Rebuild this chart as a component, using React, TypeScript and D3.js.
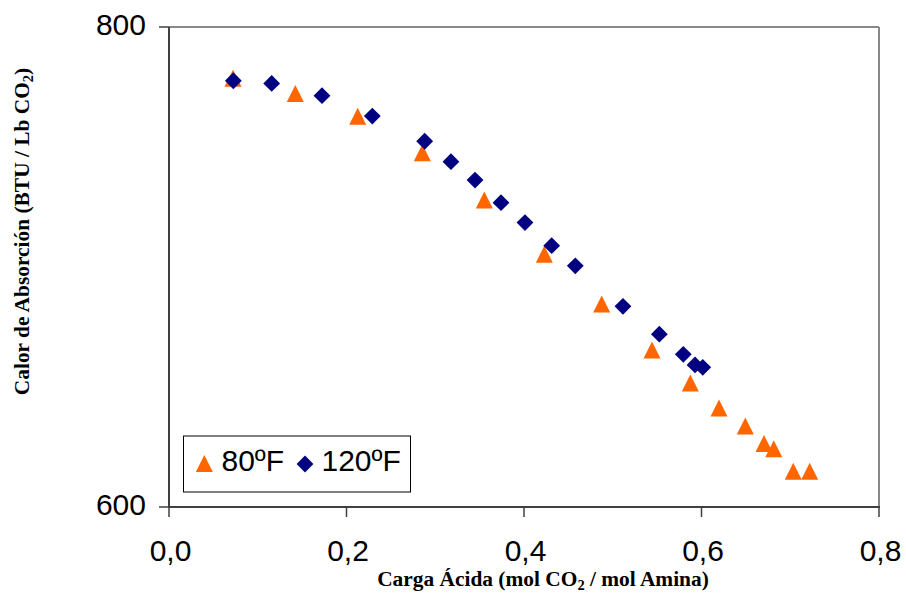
import React from "react";
import * as d3 from "d3";

const carga80: number[] = [0.0721, 0.1423, 0.2126, 0.2854, 0.3553, 0.4229, 0.4875, 0.5442, 0.5874, 0.6197, 0.6494, 0.6704, 0.6814, 0.7034, 0.7219];
const calor80: number[] = [778.6, 772.3, 762.8, 747.6, 727.9, 705.3, 684.6, 665.4, 651.7, 641.2, 633.8, 626.5, 624.3, 614.9, 614.9];

const carga120: number[] = [0.0725, 0.1157, 0.1724, 0.2291, 0.2881, 0.3177, 0.3448, 0.3741, 0.4011, 0.4312, 0.4578, 0.5115, 0.5525, 0.5795, 0.5927, 0.6014];
const calor120: number[] = [777.6, 776.5, 771.4, 762.9, 752.4, 743.9, 736.2, 726.8, 718.5, 708.9, 700.5, 683.6, 672.0, 663.6, 659.2, 658.2];

const xTicks: number[] = [0, 0.2, 0.4, 0.6, 0.8];
const yTicks: number[] = [600, 800];
const seriesNames: string[] = ["80ºF", "120ºF"];

const ORANGE = "#FF6600";
const NAVY = "#000080";

export default function App() {
  const W = 906, H = 593;
  const x = d3.scaleLinear().domain([0, 0.8]).range([169, 879]);
  const y = d3.scaleLinear().domain([600, 800]).range([507, 27]);
  const fmt = (v: number) => v.toFixed(1).replace(".", ",");

  const tri = (cx: number, cy: number, s = 8.5) =>
    `M${cx},${cy - s}L${cx + s},${cy + s}L${cx - s},${cy + s}Z`;
  const dia = (cx: number, cy: number, s = 8.4) =>
    `M${cx},${cy - s}L${cx + s},${cy}L${cx},${cy + s}L${cx - s},${cy}Z`;

  const sans = "'Liberation Sans', Arial, sans-serif";
  const serif = "'Liberation Serif', 'Times New Roman', serif";

  return (
    <svg width={W} height={H} style={{ position: "absolute", left: 0, top: 0, background: "#fff" }}>
      <rect x={0} y={0} width={W} height={H} fill="#fff" />
      {/* frame: top/right gray */}
      <line x1={x(0)} x2={x(0.8)} y1={y(800)} y2={y(800)} stroke="#888" strokeWidth={2} />
      <line x1={x(0.8)} x2={x(0.8)} y1={y(800)} y2={y(600)} stroke="#888" strokeWidth={2} />
      {/* axes */}
      <line x1={x(0)} x2={x(0)} y1={y(800)} y2={y(600) + 1} stroke="#404040" strokeWidth={2} />
      <line x1={x(0)} x2={x(0.8) + 1} y1={y(600)} y2={y(600)} stroke="#404040" strokeWidth={2} />
      {yTicks.map((t) => (
        <g key={"yt" + t}>
          <line x1={x(0) - 10} x2={x(0)} y1={y(t)} y2={y(t)} stroke="#404040" strokeWidth={1.5} />
          <text x={146} y={y(t) + 8} textAnchor="end" fontFamily={sans} fontSize={30} fill="#000">
            {t}
          </text>
        </g>
      ))}
      {xTicks.map((t) => (
        <g key={"xt" + t}>
          <line x1={x(t)} x2={x(t)} y1={y(600)} y2={y(600) + 10} stroke="#404040" strokeWidth={1.5} />
          <text x={x(t) + 1.5} y={561} textAnchor="middle" fontFamily={sans} fontSize={30} fill="#000">
            {fmt(t)}
          </text>
        </g>
      ))}
      {/* series */}
      {carga80.map((c, i) => (
        <path key={"a" + i} d={tri(x(c), y(calor80[i]))} fill={ORANGE} />
      ))}
      {carga120.map((c, i) => (
        <path key={"b" + i} d={dia(x(c), y(calor120[i]))} fill={NAVY} />
      ))}
      {/* legend */}
      <rect x={183.5} y={436} width={227} height={56} fill="#fff" stroke="#000" strokeWidth={1} />
      <path d={tri(204.3, 463.5)} fill={ORANGE} />
      <text x={221.5} y={471} fontFamily={sans} fontSize={30} fill="#000">{seriesNames[0]}</text>
      <path d={dia(305, 464)} fill={NAVY} />
      <text x={321.5} y={471} fontFamily={sans} fontSize={30} fill="#000">{seriesNames[1]}</text>
      {/* axis titles */}
      <text x={543} y={586} textAnchor="middle" fontFamily={serif} fontWeight="bold" fontSize={21.4} fill="#000">
        Carga Ácida (mol CO<tspan fontSize={14.5} dy={4}>2</tspan><tspan dy={-4}> / mol Amina)</tspan>
      </text>
      <text
        transform={`translate(29,231.5) rotate(-90)`}
        textAnchor="middle"
        fontFamily={serif}
        fontWeight="bold"
        fontSize={21.4}
        fill="#000"
      >
        Calor de Absorción (BTU / Lb CO<tspan fontSize={14.5} dy={4}>2</tspan><tspan dy={-4}>)</tspan>
      </text>
    </svg>
  );
}
